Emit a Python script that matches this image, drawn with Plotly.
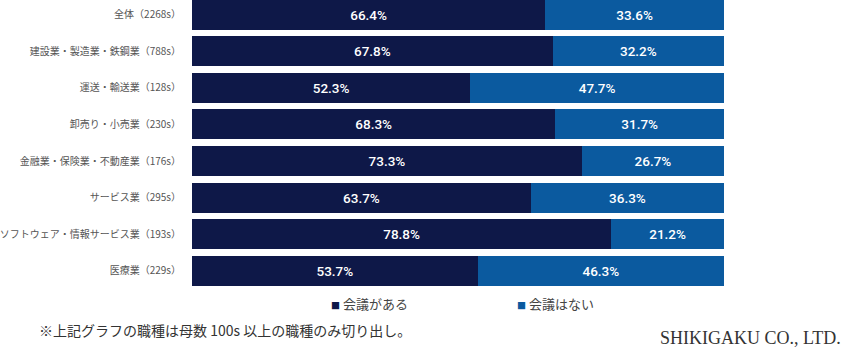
import plotly.graph_objects as go

categories = [
    "全体（2268s）",
    "建設業・製造業・鉄鋼業（788s）",
    "運送・輸送業（128s）",
    "卸売り・小売業（230s）",
    "金融業・保険業・不動産業（176s）",
    "サービス業（295s）",
    "ソフトウェア・情報サービス業（193s）",
    "医療業（229s）",
]
has_meeting = [66.4, 67.8, 52.3, 68.3, 73.3, 63.7, 78.8, 53.7]
no_meeting = [33.6, 32.2, 47.7, 31.7, 26.7, 36.3, 21.2, 46.3]
series_names = ["会議がある", "会議はない"]
colors = ["#0e1848", "#0b5a9f"]

font_main = "Noto Sans CJK JP, Noto Sans, sans-serif"

W, H = 849, 355
L, R, T, B = 192, 125, 0, 65
PW = W - L - R
PH = H - T - B


def px_x(x):
    return (x - L) / PW


def px_y(y):
    return (H - B - y) / PH


fig = go.Figure()
for name, vals, col in zip(series_names, [has_meeting, no_meeting], colors):
    fig.add_trace(go.Bar(
        y=categories, x=vals, name=name, orientation="h",
        marker=dict(color=col, line=dict(width=0)),
        text=[f"{v:.1f}%" for v in vals],
        textposition="inside", insidetextanchor="middle",
        textfont=dict(color="white", size=13.5, family="Roboto, Noto Sans, sans-serif", weight=500),
        hoverinfo="skip", showlegend=False,
    ))

fig.update_layout(
    barmode="stack",
    bargap=0.18,
    width=W, height=H,
    margin=dict(l=L, r=R, t=T, b=B, autoexpand=False),
    plot_bgcolor="white", paper_bgcolor="white",
    font=dict(family=font_main),
    xaxis=dict(range=[0, 100], visible=False, fixedrange=True, automargin=False),
    yaxis=dict(categoryorder="array", categoryarray=categories,
               range=[7.52, -0.396], showgrid=False, zeroline=False,
               showline=False, ticks="", ticklabelstandoff=10, automargin=False,
               fixedrange=True,
               tickfont=dict(size=10, color="#555555", family=font_main)),
    showlegend=False,
    uniformtext=dict(minsize=13, mode="show"),
)

# legend drawn as text entries
legend_x = [329, 515]
for name, col, lx in zip(series_names, colors, legend_x):
    fig.add_annotation(
        text=f'<span style="color:{col};font-size:9px">■</span> {name}',
        xref="paper", yref="paper", x=px_x(lx), y=px_y(303),
        xanchor="left", yanchor="middle", showarrow=False,
        font=dict(size=13, color="#444444", family=font_main),
    )

fig.add_annotation(
    text="※上記グラフの職種は母数 100s 以上の職種のみ切り出し。",
    xref="paper", yref="paper", x=px_x(37), y=px_y(330),
    xanchor="left", yanchor="middle", showarrow=False,
    font=dict(size=14, color="#333333", family="Noto Sans CJK JP, sans-serif"),
)
fig.add_annotation(
    text="SHIKIGAKU CO., LTD.",
    xref="paper", yref="paper", x=px_x(843), y=px_y(338),
    xanchor="right", yanchor="middle", showarrow=False,
    font=dict(size=18, color="#333333", family="Liberation Serif, DejaVu Serif, serif"),
)

fig.write_html("out.html", config={"displayModeBar": False},
               post_script="document.body.style.margin='0';")
